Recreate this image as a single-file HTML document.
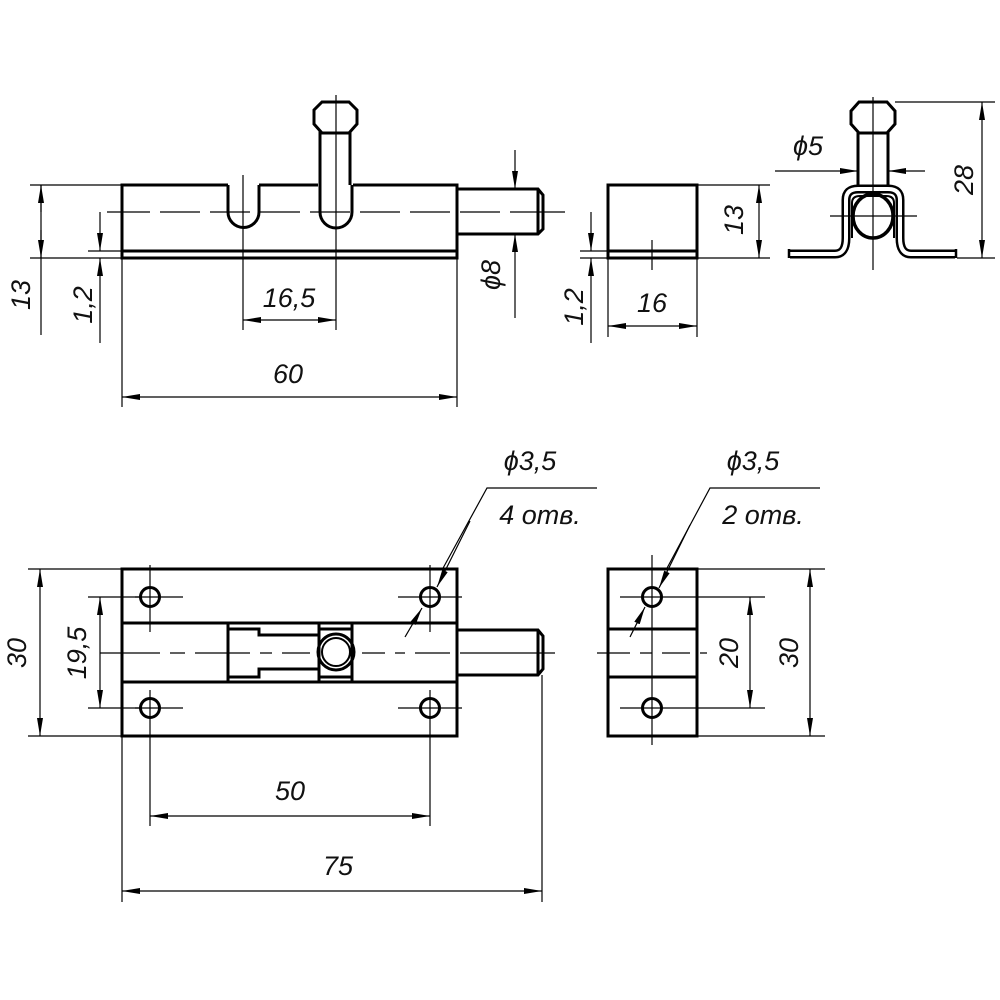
<!DOCTYPE html>
<html><head><meta charset="utf-8"><style>
html,body{margin:0;padding:0;background:#fff}
svg{display:block}
text{font-family:"Liberation Sans",sans-serif;font-style:italic;font-size:27px;fill:#111}
</style></head><body>
<svg width="1000" height="1000" viewBox="0 0 1000 1000" xmlns="http://www.w3.org/2000/svg">
<defs>
<marker id="a" viewBox="0 0 18 6" refX="18" refY="3" markerWidth="18" markerHeight="6" markerUnits="userSpaceOnUse" orient="auto-start-reverse">
<path d="M0,0 L18,3 L0,6 Z" fill="#000"/></marker>
</defs>
<g fill="none" stroke="#000">
<!-- ===== TOP LEFT VIEW ===== -->
<g stroke-width="3">
<path d="M228,185 H122 V258 H457 V185 H353 M318,185 H259"/>
<line x1="122" y1="251" x2="457" y2="251"/>
<path d="M228,185 V212 A15.5,15.5 0 0 0 259,212 V185"/>
<path d="M320,185 V212 A16,16 0 0 0 352,212 V185"/>
<path d="M320,185 V133 H350 V185"/>
<path d="M322,133 L314,124 V110 L322,102 H349 L357,110 V124 L349,133 Z"/>
<path d="M457,189 H538 L543,195 V229 L538,234 H457"/>
<line x1="538" y1="189" x2="538" y2="234"/>
</g>
<g stroke-width="1.2">
<path d="M107,212 H150 M160,212 H200 M210,212 H250 M260,212 H300 M310,212 H350 M360,212 H400 M410,212 H450 M460,212 H500 M510,212 H565"/>
<line x1="243" y1="175" x2="243" y2="330"/>
<line x1="336" y1="95" x2="336" y2="330"/>
<line x1="30" y1="185" x2="122" y2="185"/>
<line x1="30" y1="258" x2="122" y2="258"/>
<line x1="88" y1="251" x2="122" y2="251"/>
<line x1="41" y1="185" x2="41" y2="335"/>
<line x1="41" y1="212" x2="41" y2="185" marker-end="url(#a)"/>
<line x1="41" y1="230" x2="41" y2="258" marker-end="url(#a)"/>
<line x1="100" y1="212" x2="100" y2="251" marker-end="url(#a)"/>
<line x1="100" y1="343" x2="100" y2="258" marker-end="url(#a)"/>
<line x1="243" y1="320" x2="336" y2="320" marker-start="url(#a)" marker-end="url(#a)"/>
<line x1="122" y1="258" x2="122" y2="407"/>
<line x1="457" y1="258" x2="457" y2="407"/>
<line x1="122" y1="397" x2="457" y2="397" marker-start="url(#a)" marker-end="url(#a)"/>
<line x1="515" y1="150" x2="515" y2="189" marker-end="url(#a)"/>
<line x1="515" y1="318" x2="515" y2="234" marker-end="url(#a)"/>
</g>
<!-- ===== TOP MIDDLE VIEW ===== -->
<g stroke-width="3">
<rect x="608" y="185" width="89" height="73"/>
<line x1="608" y1="251" x2="697" y2="251"/>
</g>
<g stroke-width="1.2">
<line x1="652" y1="240" x2="652" y2="270"/>
<line x1="697" y1="185" x2="770" y2="185"/>
<line x1="580" y1="258" x2="770" y2="258"/>
<line x1="580" y1="251" x2="608" y2="251"/>
<line x1="759" y1="185" x2="759" y2="258" marker-start="url(#a)" marker-end="url(#a)"/>
<line x1="591" y1="212" x2="591" y2="251" marker-end="url(#a)"/>
<line x1="591" y1="343" x2="591" y2="258" marker-end="url(#a)"/>
<line x1="608" y1="258" x2="608" y2="337"/>
<line x1="697" y1="258" x2="697" y2="337"/>
<line x1="608" y1="326" x2="697" y2="326" marker-start="url(#a)" marker-end="url(#a)"/>
</g>
<!-- ===== TOP RIGHT VIEW ===== -->
<g stroke-width="3">
<path d="M858,187 V133 H888 V187"/>
<path d="M859,133 L851,124 V111 L859,102 H887 L895,111 V124 L887,133 Z"/>
</g>
<path d="M790,254 H835 Q846,254 846,238 V200 Q846,189 858,189 H888 Q900,189 900,200 V238 Q900,254 911,254 H955" stroke-width="9" stroke-linejoin="round"/>
<path d="M790,254 H835 Q846,254 846,238 V200 Q846,189 858,189 H888 Q900,189 900,200 V238 Q900,254 911,254 H955" stroke="#fff" stroke-width="4" stroke-linejoin="round"/>
<path d="M789,249 V258 M956,249 V258" stroke-width="2.5"/>
<ellipse cx="873" cy="216" rx="20" ry="22" stroke-width="3.5"/>
<path d="M852,238 V203 Q852,196 860,196 H886 Q894,196 894,203 V238" stroke-width="2"/>
<g stroke-width="1.2">
<line x1="873" y1="97" x2="873" y2="270"/>
<line x1="830" y1="216" x2="917" y2="216"/>
<line x1="895" y1="102" x2="995" y2="102"/>
<line x1="957" y1="258" x2="995" y2="258"/>
<line x1="982" y1="102" x2="982" y2="258" marker-start="url(#a)" marker-end="url(#a)"/>
<line x1="775" y1="171" x2="858" y2="171" marker-end="url(#a)"/>
<line x1="925" y1="171" x2="888" y2="171" marker-end="url(#a)"/>
</g>
<!-- ===== BOTTOM LEFT VIEW ===== -->
<g stroke-width="3">
<rect x="122" y="569" width="335" height="167"/>
<line x1="122" y1="623" x2="457" y2="623"/>
<line x1="122" y1="682" x2="457" y2="682"/>
<path d="M457,630 H538 L543,636 V669 L538,675 H457"/>
<line x1="538" y1="630" x2="538" y2="675"/>
<line x1="228" y1="623" x2="228" y2="682"/>
<line x1="352" y1="623" x2="352" y2="682"/>
<line x1="319" y1="623" x2="319" y2="682"/>
<path d="M228,629 H259 V635 H319 M228,677 H259 V669 H319"/>
<path d="M319,629 H352 M319,677 H352"/>
<circle cx="336" cy="652" r="18"/>
<circle cx="336" cy="652" r="14" stroke-width="2"/>
<circle cx="150" cy="597" r="9.5"/>
<circle cx="430" cy="597" r="9.5"/>
<circle cx="150" cy="708" r="9.5"/>
<circle cx="430" cy="708" r="9.5"/>
</g>
<g stroke-width="1.2">
<path d="M100,653 H160 M170,653 H185 M195,653 H250 M260,653 H272 M282,653 H310 M362,653 H385 M395,653 H405 M415,653 H450 M460,653 H555"/>
<path d="M135,597 H183 M135,708 H183 M398,597 H462 M398,708 H462"/>
<path d="M150,565 V632 M150,690 V826 M430,565 V632 M430,690 V826"/>
<line x1="28" y1="569" x2="122" y2="569"/>
<line x1="28" y1="736" x2="122" y2="736"/>
<line x1="88" y1="597" x2="140" y2="597"/>
<line x1="88" y1="708" x2="140" y2="708"/>
<line x1="40" y1="569" x2="40" y2="736" marker-start="url(#a)" marker-end="url(#a)"/>
<line x1="100" y1="597" x2="100" y2="708" marker-start="url(#a)" marker-end="url(#a)"/>
<line x1="150" y1="816" x2="430" y2="816" marker-start="url(#a)" marker-end="url(#a)"/>
<line x1="122" y1="736" x2="122" y2="902"/>
<line x1="542" y1="675" x2="542" y2="902"/>
<line x1="122" y1="891" x2="542" y2="891" marker-start="url(#a)" marker-end="url(#a)"/>
<path d="M597,488 H487 L442,570"/>
<line x1="470" y1="521" x2="437" y2="587" marker-end="url(#a)"/>
<line x1="405" y1="637" x2="422" y2="608" marker-end="url(#a)"/>
</g>
<!-- ===== BOTTOM RIGHT VIEW ===== -->
<g stroke-width="3">
<rect x="608" y="569" width="89" height="167"/>
<line x1="608" y1="629" x2="697" y2="629"/>
<line x1="608" y1="677" x2="697" y2="677"/>
<circle cx="652" cy="597" r="9.5"/>
<circle cx="652" cy="708" r="9.5"/>
</g>
<g stroke-width="1.2">
<line x1="652" y1="555" x2="652" y2="745"/>
<path d="M597,653 H630 M640,653 H652 M662,653 H690 M700,653 H707"/>
<path d="M620,597 H765 M620,708 H765"/>
<line x1="697" y1="569" x2="825" y2="569"/>
<line x1="697" y1="736" x2="825" y2="736"/>
<line x1="750" y1="597" x2="750" y2="708" marker-start="url(#a)" marker-end="url(#a)"/>
<line x1="810" y1="569" x2="810" y2="736" marker-start="url(#a)" marker-end="url(#a)"/>
<path d="M820,488 H710 L666,570"/>
<line x1="690" y1="525" x2="659" y2="588" marker-end="url(#a)"/>
<line x1="630" y1="637" x2="645" y2="607" marker-end="url(#a)"/>
</g>
</g>
<!-- ===== TEXT ===== -->
<text transform="translate(30,295) rotate(-90)" text-anchor="middle">13</text>
<text transform="translate(92,305) rotate(-90)" text-anchor="middle">1,2</text>
<text x="289" y="307" text-anchor="middle">16,5</text>
<text x="288" y="383" text-anchor="middle">60</text>
<text transform="translate(500,275) rotate(-90)" text-anchor="middle">ϕ8</text>
<text transform="translate(583,307) rotate(-90)" text-anchor="middle">1,2</text>
<text x="652" y="312" text-anchor="middle">16</text>
<text transform="translate(743,220) rotate(-90)" text-anchor="middle">13</text>
<text x="808" y="155" text-anchor="middle">ϕ5</text>
<text transform="translate(973,180) rotate(-90)" text-anchor="middle">28</text>
<text transform="translate(26,653) rotate(-90)" text-anchor="middle">30</text>
<text transform="translate(86,653) rotate(-90)" text-anchor="middle">19,5</text>
<text x="290" y="800" text-anchor="middle">50</text>
<text x="338" y="875" text-anchor="middle">75</text>
<text x="530" y="470" text-anchor="middle">ϕ3,5</text>
<text x="540" y="524" text-anchor="middle">4 отв.</text>
<text x="753" y="470" text-anchor="middle">ϕ3,5</text>
<text x="763" y="524" text-anchor="middle">2 отв.</text>
<text transform="translate(738,653) rotate(-90)" text-anchor="middle">20</text>
<text transform="translate(798,653) rotate(-90)" text-anchor="middle">30</text>
</svg>
</body></html>
